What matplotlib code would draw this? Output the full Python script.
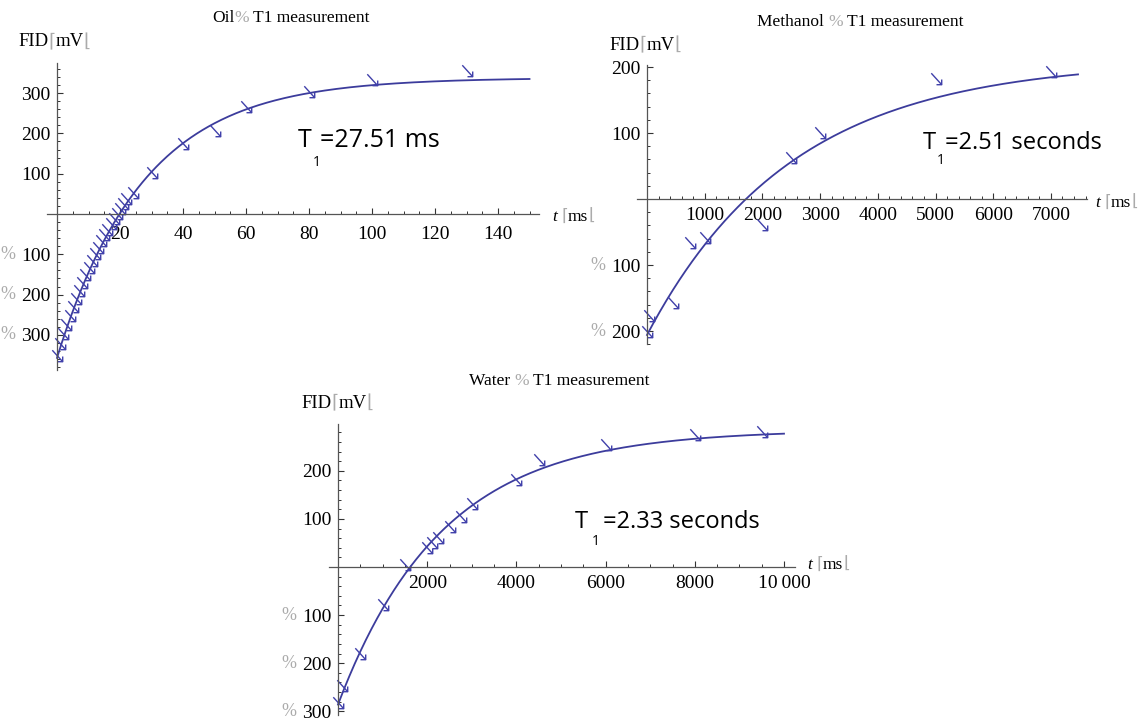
import matplotlib
matplotlib.use("Agg")
import matplotlib.pyplot as plt
import numpy as np
from matplotlib.path import Path
from matplotlib.ticker import MultipleLocator
from matplotlib.offsetbox import TextArea, HPacker, AnnotationBbox

W, H = 1139, 721
LINE_COLOR = "#3c3c9c"
MARK_COLOR = "#4040aa"
BROKEN = "#ababab"
SERIF = ["Liberation Serif", "DejaVu Serif"]
SYMBOLS = ["Liberation Serif", "DejaVu Sans"]
SANS = ["Open Sans", "DejaVu Sans"]

# measured points (t in ms, FID in mV)
oilTime = [0, 1, 2, 3, 4, 5, 6, 7, 8, 9, 10, 11, 12, 13, 14, 15, 16, 17, 18, 19, 20, 21, 22,
           24, 30, 40, 50, 60, 80, 100, 130]
oilFID = [-352, -322, -298, -275, -252, -231, -210, -190, -171, -152, -134, -117, -100, -84,
          -68, -53, -39, -26, -12, 0, 12, 24, 36, 52, 102, 174, 206, 265, 303, 332, 355]

methanolTime = [0, 30, 450, 750, 1000, 2000, 2500, 3000, 5000, 7000]
methanolFID = [-202, -178, -158, -67, -59, -39, 62, 100, 182, 192]

waterTime = [0, 100, 500, 1000, 1500, 2000, 2100, 2250, 2500, 2750, 3000, 4000, 4500, 6000, 8000, 9500]
waterFID = [-283, -248, -180, -79, 4, 39, 50, 60, 83, 104, 130, 180, 222, 253, 275, 281]

# fitted saturation-recovery curves: FID = plateau - depth * exp(-t / T1)
oilFit = {"T1": 27.51, "plateau": 338, "depth": 695, "tEnd": 150}
methanolFit = {"T1": 2510, "plateau": 210, "depth": 416, "tEnd": 7470}
waterFit = {"T1": 2330, "plateau": 285, "depth": 571, "tEnd": 10000}

oilXTicks = [20, 40, 60, 80, 100, 120, 140]
oilYTicks = [-300, -200, -100, 100, 200, 300]
methanolXTicks = [1000, 2000, 3000, 4000, 5000, 6000, 7000]
methanolYTicks = [-200, -100, 100, 200]
waterXTicks = [2000, 4000, 6000, 8000, 10000]
waterYTicks = [-300, -200, -100, 100, 200]

# thin "south-east arrow" marker, as the plot symbol in the original
ARROW = Path([(-0.5, 0.6), (0.5, -0.5), (0.5, 0.0), (0.5, -0.5), (0.0, -0.5)],
             [Path.MOVETO, Path.LINETO, Path.MOVETO, Path.LINETO, Path.LINETO])

fig = plt.figure(figsize=(W / 100, H / 100), dpi=100)


def rich(pieces, x, y, size, align=(0.5, 0.5)):
    boxes = [TextArea(text, textprops=dict(color=color, fontsize=size, family=family, style=style))
             for text, color, family, style in pieces]
    pack = HPacker(children=boxes, align="baseline", pad=0, sep=0)
    fig.add_artist(AnnotationBbox(pack, (x, H - y), xycoords="figure pixels",
                                  frameon=False, box_alignment=align, pad=0))


def panel(origin, sx, sy, xlim, ylim, xticks, yticks, xminor, yminor, xpad):
    x0, y0 = origin
    left = x0 + xlim[0] * sx
    right = x0 + xlim[1] * sx
    top = y0 - ylim[1] * sy
    bottom = y0 - ylim[0] * sy
    ax = fig.add_axes([left / W, 1 - bottom / H, (right - left) / W, (bottom - top) / H])
    ax.set_xlim(*xlim)
    ax.set_ylim(*ylim)
    ax.patch.set_alpha(0)
    for side in ("top", "right"):
        ax.spines[side].set_visible(False)
    for side in ("left", "bottom"):
        ax.spines[side].set_position(("data", 0))
        ax.spines[side].set_color("#555555")
        ax.spines[side].set_linewidth(0.9)
    xlabels = [f"{v // 1000}\u2009{v % 1000:03d}" if v >= 10000 else str(v) for v in xticks]
    ax.set_xticks(xticks, labels=xlabels)
    ax.set_yticks(yticks, labels=[str(abs(v)) for v in yticks])
    ax.xaxis.set_minor_locator(MultipleLocator(xminor))
    ax.yaxis.set_minor_locator(MultipleLocator(yminor))
    ax.tick_params(which="major", direction="in", length=4.5, width=0.8, color="#333333",
                   labelsize=14)
    ax.tick_params(which="minor", direction="in", length=2.3, width=0.7, color="#333333")
    ax.tick_params(axis="x", which="major", pad=xpad)
    ax.tick_params(axis="y", which="major", pad=4.5)
    for lab in ax.get_xticklabels() + ax.get_yticklabels():
        lab.set_family(SERIF)
    # the minus signs render as a broken grey glyph in the original
    for v in yticks:
        if v < 0:
            ax.annotate("%", xy=(0, v), xycoords="data", xytext=(-30, 0),
                        textcoords="offset points", ha="right", va="center",
                        fontsize=13, family=SERIF, color=BROKEN)
    return ax


def draw(ax, t, fid, fit):
    tt = np.linspace(0, fit["tEnd"], 400)
    ax.plot(tt, fit["plateau"] - fit["depth"] * np.exp(-tt / fit["T1"]),
            color=LINE_COLOR, linewidth=1.3, clip_on=False)
    ax.plot(t, fid, linestyle="none", marker=ARROW, markersize=9, fillstyle="none",
            markeredgecolor=MARK_COLOR, markeredgewidth=1.0, clip_on=False)


axOil = panel((57, 214), 3.15, 0.403, (-3.2, 153), (-387, 375),
              oilXTicks, oilYTicks, 5, 20, 8.5)
draw(axOil, oilTime, oilFID, oilFit)

axMeth = panel((647, 199), 0.0577, 0.66, (-175, 7625), (-220, 203),
               methanolXTicks, methanolYTicks, 200, 20, 6.0)
draw(axMeth, methanolTime, methanolFID, methanolFit)

axWater = panel((338, 567), 0.0446, 0.481, (-200, 10250), (-307, 298),
                waterXTicks, waterYTicks, 500, 20, 6.0)
draw(axWater, waterTime, waterFID, waterFit)

# titles
for name, sep, x, y in (("Oil", "", 291, 18), ("Methanol", " ", 860, 22), ("Water", " ", 559, 381)):
    rich([(name + sep, "black", SERIF, "normal"), ("%", BROKEN, SERIF, "normal"),
          (" T1 measurement", "black", SERIF, "normal")], x, y, 12.5)

# axis labels
for x, y in ((18, 42), (609, 45), (301, 403)):
    rich([("FID", "black", SERIF, "normal"), ("\u2308", BROKEN, SYMBOLS, "normal"),
          ("mV", "black", SERIF, "normal"), ("\u230a", BROKEN, SYMBOLS, "normal")],
         x, y, 13.5, align=(0.0, 0.5))
for x, y in ((553, 217), (1096, 203), (808, 565)):
    rich([("t\u2009", "black", SERIF, "italic"), ("\u2308", BROKEN, SYMBOLS, "normal"),
          ("ms", "black", SERIF, "normal"), ("\u230a", BROKEN, SYMBOLS, "normal")],
         x, y, 12.5, align=(0.0, 0.5))

# T1 annotations
for tx, ty, sx, sy, ex, text, size in ((298, 147, 313, 166, 320, "=27.51 ms", 18),
                                       (923, 149, 937, 164, 945, "=2.51 seconds", 17),
                                       (575, 528, 592, 545, 603, "=2.33 seconds", 17)):
    fig.text(tx / W, 1 - ty / H, "T", fontsize=size, family=SANS, va="baseline", ha="left")
    fig.text(sx / W, 1 - sy / H, "1", fontsize=10, family=SANS, va="baseline", ha="left")
    fig.text(ex / W, 1 - ty / H, text, fontsize=size, family=SANS, va="baseline", ha="left")

fig.savefig("out.png", dpi=100)
